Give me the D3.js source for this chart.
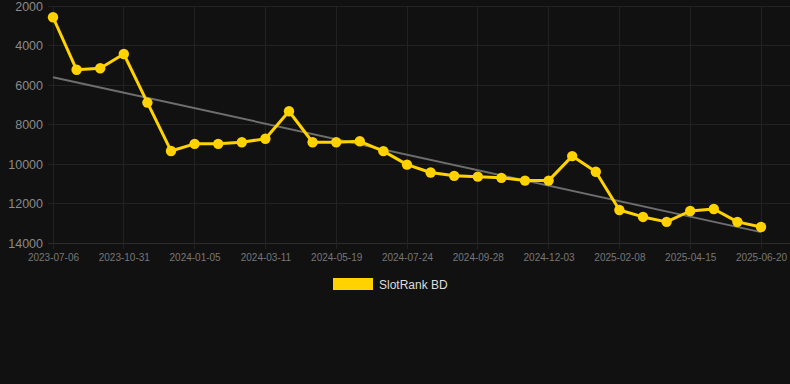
<!DOCTYPE html>
<html><head><meta charset="utf-8">
<script src="https://cdn.jsdelivr.net/npm/d3@7"></script>
<style>
html,body{margin:0;padding:0;background:#111111;}
svg{display:block;font-family:"Liberation Sans",Arial,Helvetica,sans-serif;}
</style></head>
<body>
<svg id="chart" width="790" height="384"></svg>
<script>
const categories = ["2023-07-06","2023-08-14","2023-09-22","2023-10-31","2023-11-22","2023-12-14",
"2024-01-05","2024-01-27","2024-02-18","2024-03-11","2024-04-03","2024-04-26",
"2024-05-19","2024-06-10","2024-07-02","2024-07-24","2024-08-15","2024-09-06",
"2024-09-28","2024-10-20","2024-11-11","2024-12-03","2024-12-25","2025-01-17",
"2025-02-08","2025-03-02","2025-03-24","2025-04-15","2025-05-07","2025-05-29","2025-06-20"];
const rankValues = [2570,5230,5150,4430,6890,9340,8980,8980,8900,8720,7330,8900,
8900,8850,9350,10030,10430,10600,10640,10700,10840,10840,9600,10390,
12330,12680,12930,12380,12280,12930,13190];
const yTicks = [2000,4000,6000,8000,10000,12000,14000];
const xTickLabels = categories.filter((d,i)=>i%3===0);
const seriesName = "SlotRank BD";

const svg = d3.select("#chart");
const x = d3.scalePoint().domain(categories).range([53,761]);
const y = d3.scaleLinear().domain([2000,14000]).range([6,243]);

// grid
const grid = svg.append("g");
grid.selectAll(".hg").data(yTicks).enter().append("line")
  .attr("x1",48).attr("x2",790).attr("y1",d=>y(d)).attr("y2",d=>y(d))
  .attr("stroke",d=>d===14000?"#2c2c2c":"#222222").attr("stroke-width",1).attr("shape-rendering","crispEdges");
grid.selectAll(".vg").data(xTickLabels).enter().append("line")
  .attr("x1",d=>x(d)).attr("x2",d=>x(d)).attr("y1",6).attr("y2",249)
  .attr("stroke","#222222").attr("stroke-width",1).attr("shape-rendering","crispEdges");

// y axis labels
const yAxis = d3.axisLeft(y).tickValues(yTicks).tickSize(0).tickPadding(0).tickFormat(d3.format("d"));
const ya = svg.append("g").attr("transform","translate(43,0)").call(yAxis);
ya.select(".domain").remove();
ya.selectAll("text").attr("fill","#8a8a8a").attr("font-size","12.5px").attr("font-family","'Liberation Sans',Arial,sans-serif");

// x axis labels
const xAxis = d3.axisBottom(x).tickValues(xTickLabels).tickSize(0).tickPadding(0);
const xa = svg.append("g").attr("transform","translate(0,254)").call(xAxis);
xa.select(".domain").remove();
xa.selectAll("text").attr("fill","#777777").attr("font-size","10px").attr("dy","0.71em").attr("font-family","'Liberation Sans',Arial,sans-serif");

// trend (linear regression)
const n = rankValues.length;
const xs = rankValues.map((d,i)=>i);
const mx = d3.mean(xs), my = d3.mean(rankValues);
const slope = d3.sum(xs.map((xi,i)=>(xi-mx)*(rankValues[i]-my)))/d3.sum(xs.map(xi=>(xi-mx)*(xi-mx)));
const intercept = my - slope*mx;
svg.append("line")
  .attr("x1",x(categories[0])).attr("y1",y(intercept))
  .attr("x2",x(categories[n-1])).attr("y2",y(intercept+slope*(n-1)))
  .attr("stroke","#6e6e6e").attr("stroke-width",2);

// series line
const line = d3.line().x((d,i)=>x(categories[i])).y(d=>y(d));
svg.append("path").datum(rankValues).attr("d",line)
  .attr("fill","none").attr("stroke","#FFD200").attr("stroke-width",3).attr("stroke-linejoin","round");
svg.selectAll(".pt").data(rankValues).enter().append("circle")
  .attr("cx",(d,i)=>x(categories[i])).attr("cy",d=>y(d)).attr("r",5.2).attr("fill","#FFD200");

// legend
svg.append("rect").attr("x",333).attr("y",278).attr("width",40).attr("height",12).attr("fill","#FFD200");
svg.append("text").attr("x",379).attr("y",288.5).text(seriesName)
  .attr("fill","#dddddd").attr("font-size","12px");
</script>
</body></html>
